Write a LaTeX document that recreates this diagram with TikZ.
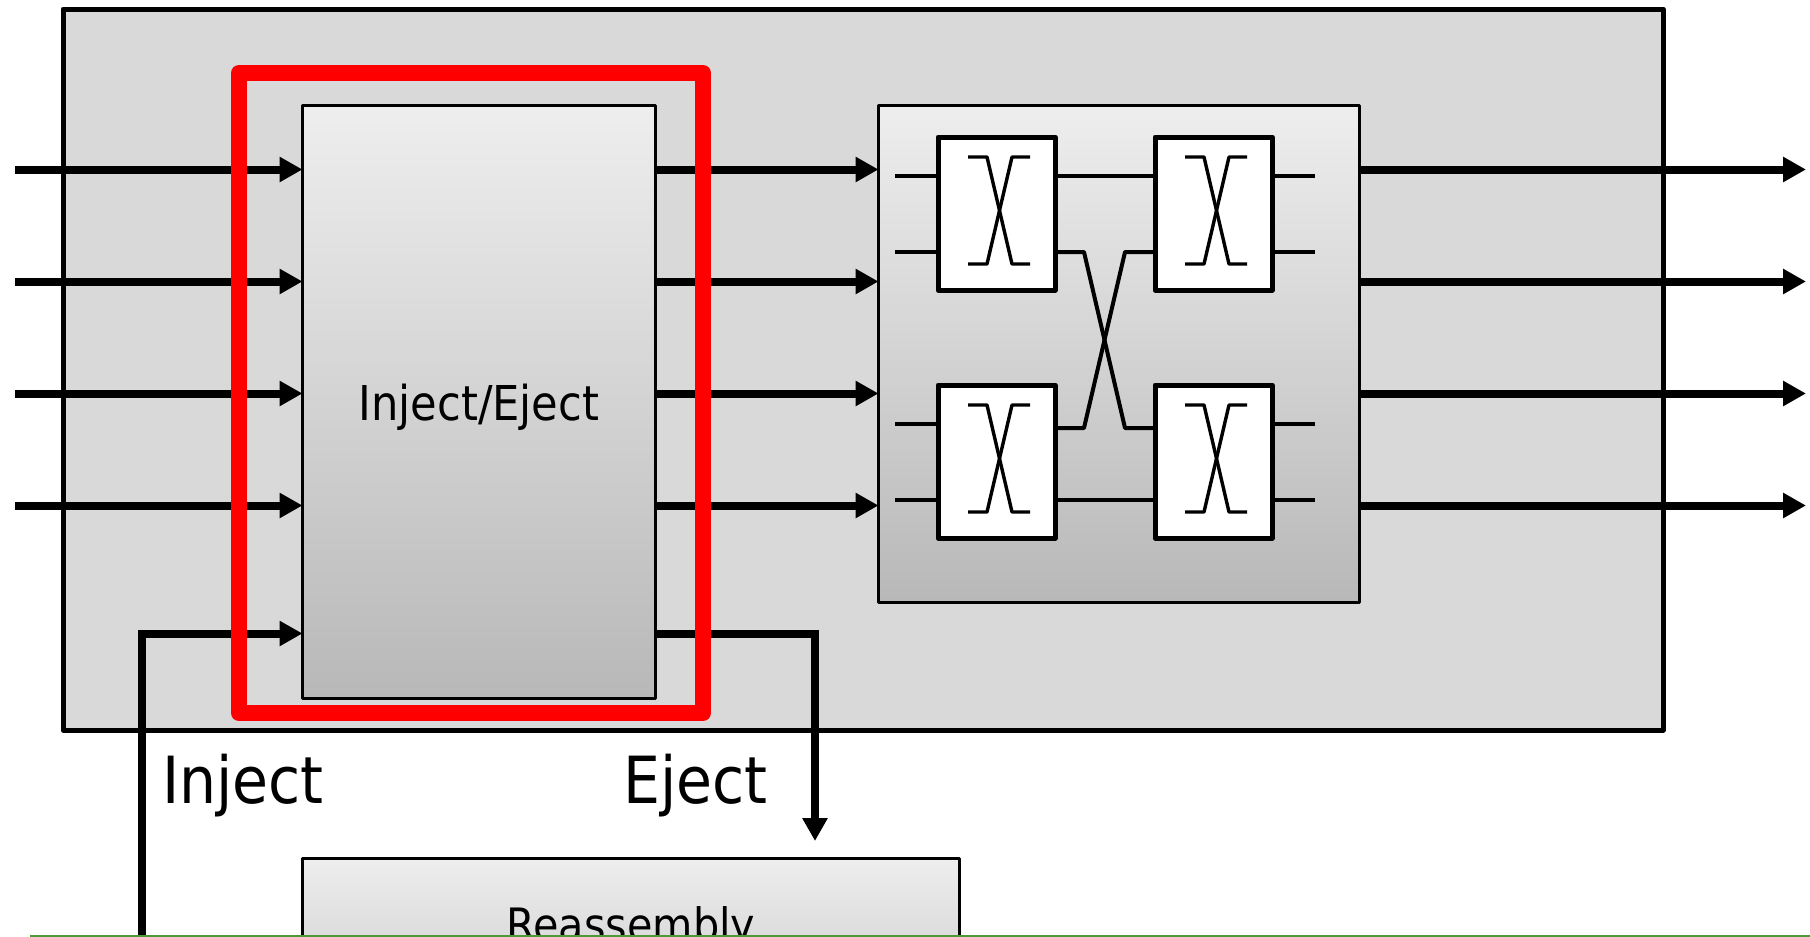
\documentclass[tikz,border=0pt]{standalone}
\usepackage{fontspec}
\setmainfont{DejaVu Sans Condensed}
\usetikzlibrary{arrows.meta}
\definecolor{panelgray}{HTML}{D9D9D9}
\definecolor{gradtop}{HTML}{EEEEEE}
\definecolor{gradbot}{HTML}{B8B8B8}
\definecolor{rulegreen}{HTML}{4E9A3A}
\tikzset{
  x=1pt,y=-1pt,
  outerbox/.style={draw=black,line width=5pt,fill=panelgray,line join=round},
  gradbox/.style={draw=black,line width=3pt,top color=gradtop,bottom color=gradbot,middle color={gradtop!50!gradbot},line join=round},
  redbox/.style={draw=red,line width=16pt,line join=round},
  switchbox/.style={draw=black,line width=5pt,fill=white,line join=round},
  wire/.style={draw=black,line width=4pt,line join=round},
  thinwire/.style={draw=black,line width=3.4pt,line join=round},
  bus/.style={draw=black,line width=8pt},
  busarrow/.style={bus,-{Triangle[length=23pt,width=24pt]}},
}
\newcommand{\boxat}[6]{\node[#1,inner sep=0pt,outer sep=0pt,anchor=north west,minimum width=#4pt-#2pt,minimum height=#5pt-#3pt] (#6) at (#2,#3) {};}
\newcommand{\xmark}[1]{%
  \draw[thinwire] ([shift={(30,20)}]#1.north west) -- ++(19,0) -- ++(25,107) -- ++(18,0);
  \draw[thinwire] ([shift={(30,127)}]#1.north west) -- ++(19,0) -- ++(25,-107) -- ++(18,0);
}
\begin{document}
\begin{tikzpicture}
\useasboundingbox (0,0) rectangle (1810,937);
\boxat{outerbox}{63}{9}{1663}{730}{outer}
\boxat{gradbox}{302.5}{105}{655}{698}{ie}
\node[font=\fontsize{48}{52}\selectfont,anchor=base] (ielabel) at (479,420.5) {Inject/Eject};
\boxat{gradbox}{878.5}{105}{1359}{602}{net}
\boxat{switchbox}{938}{137}{1055}{290}{swa}
\boxat{switchbox}{1155}{137}{1272}{290}{swb}
\boxat{switchbox}{938}{385}{1055}{538}{swc}
\boxat{switchbox}{1155}{385}{1272}{538}{swd}
\foreach \s in {swa,swb,swc,swd} {\xmark{\s}}
% wires
\coordinate (ina1) at (895,175.5); \coordinate (ina2) at (895,252);
\coordinate (inc1) at (895,423.5); \coordinate (inc2) at (895,499.5);
\coordinate (outb1) at (1315,175.5); \coordinate (outb2) at (1315,252);
\coordinate (outd1) at (1315,423.5); \coordinate (outd2) at (1315,499.5);
\draw[wire] (ina1) -- (ina1 -| swa.west);
\draw[wire] (ina2) -- (ina2 -| swa.west);
\draw[wire] (inc1) -- (inc1 -| swc.west);
\draw[wire] (inc2) -- (inc2 -| swc.west);
\draw[wire] (outb1) -- (outb1 -| swb.east);
\draw[wire] (outb2) -- (outb2 -| swb.east);
\draw[wire] (outd1) -- (outd1 -| swd.east);
\draw[wire] (outd2) -- (outd2 -| swd.east);
\draw[wire] (ina1 -| swa.east) -- (ina1 -| swb.west);
\draw[wire] (inc2 -| swc.east) -- (inc2 -| swd.west);
\coordinate (upper) at (0,252); \coordinate (lower) at (0,428);
\draw[wire] (upper -| swa.east) -- (1084,252) -- (1125,428) -- (lower -| swd.west);
\draw[wire] (lower -| swc.east) -- (1084,428) -- (1125,252) -- (upper -| swb.west);
% buses
\foreach \n/\y in {1/169.5,2/281.5,3/393.5,4/505.5} {
  \coordinate (l\n) at (15,\y);
  \coordinate (r\n) at (1806,\y);
  \draw[busarrow] (l\n) -- (l\n -| ie.west);
  \draw[busarrow] (l\n -| ie.east) -- (l\n -| net.west);
  \draw[busarrow] (l\n -| net.east) -- (r\n);
}
\coordinate (injbot) at (142,937);
\coordinate (injcorner) at (142,633.5);
\coordinate (ejcorner) at (815,633.5);
\coordinate (ejend) at (815,841);
\draw[bus,line join=miter,-{Triangle[length=23pt,width=24pt]}] (injbot) -- (injcorner) -- (injcorner -| ie.west);
\draw[bus,line join=miter,-{Triangle[length=23pt,width=24pt]}] (ejcorner -| ie.east) -- (ejcorner) -- (ejend);
\boxat{redbox}{239}{73}{703}{713}{focus}
\node[font=\fontsize{65}{70}\selectfont,anchor=base] (injlabel) at (243,803) {Inject};
\node[font=\fontsize{65}{70}\selectfont,anchor=base] (ejlabel) at (695.5,803) {Eject};
\boxat{gradbox}{302.5}{858.5}{959}{1100}{reasm}
\node[font=\fontsize{46}{50}\selectfont,anchor=base] (relabel) at (631,941) {Reassembly};
\coordinate (gl) at (30,936); \coordinate (gr) at (1810,936);
\draw[rulegreen,line width=2pt] (gl) -- (gr);
\end{tikzpicture}
\end{document}
